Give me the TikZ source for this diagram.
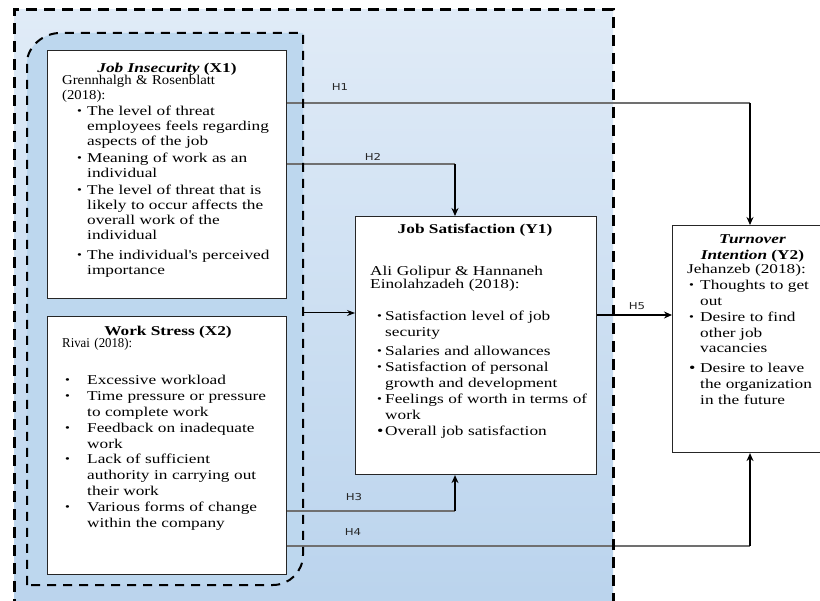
\documentclass[tikz,border=0pt]{standalone}
\usepackage{fontspec}
\setmainfont{Liberation Serif}[FakeStretch=1.28]
\newfontfamily\hdrA{Liberation Serif}[FakeStretch=1.09]
\newfontfamily\hdrB{Liberation Serif}[FakeStretch=0.95]
\newfontfamily\lblfont{DejaVu Sans}[FakeStretch=1.24]
\usetikzlibrary{arrows.meta}
\definecolor{bgA}{HTML}{F3F7FC}
\definecolor{bgB}{HTML}{B3CFEB}
\definecolor{bgC}{HTML}{C8DCF0}
\definecolor{inner}{HTML}{BDD7EE}
\definecolor{hgray}{HTML}{707070}
\pgfdeclareverticalshading{outerbg}{100bp}{color(0bp)=(bgC); color(15bp)=(bgB); color(100bp)=(bgA)}
\newlength\bhang
\newcommand\bdot{\raisebox{1pt}{\scalebox{0.8}{•}}}
\newcommand\bdotL{\raisebox{0.5pt}{\scalebox{1.05}{•}}}
\newcommand\itmf[1]{\hangindent=\bhang\hangafter=1\noindent\makebox[\bhang][l]{\bdot}#1}
\newcommand\itm[2][]{\par\if\relax\detokenize{#1}\relax\else\vspace{#1}\fi\hangindent=\bhang\hangafter=1\noindent\makebox[\bhang][l]{\bdot}#2}
\newcommand\itmL[2][]{\par\if\relax\detokenize{#1}\relax\else\vspace{#1}\fi\hangindent=\bhang\hangafter=1\noindent\makebox[\bhang][l]{\bdotL}#2}
\begin{document}
\begin{tikzpicture}[x=1pt,y=-1pt,
  box/.style={draw=black!85, line width=1.1pt, fill=white, anchor=north west, inner sep=0pt},
  ttl/.style={inner sep=0pt, anchor=base, font=\fontsize{13.5}{15.5}\selectfont\bfseries},
  txt/.style={inner sep=0pt, anchor=base west, align=left, text width=300pt},
  lbl/.style={inner sep=0pt, font=\lblfont\fontsize{9.5}{11}\selectfont, text=black!85},
  hl/.style={draw=hgray, line width=1.1pt},
  vl/.style={draw=black, line width=1.8pt, -{Stealth[length=8pt,width=7pt]}},
  al/.style={draw=black, line width=1.5pt, -{Stealth[length=8pt,width=7pt]}},
  tl/.style={draw=black, line width=1pt, -{Stealth[length=8pt,width=6pt]}}
]
\useasboundingbox (0,0) rectangle (820,601);
\clip (0,0) rectangle (820,601);
\fill[white] (0,0) rectangle (820,601);
% outer gradient region
\shade[shading=outerbg] (14,10) rectangle (613,601);
% inner rounded region
\fill[inner] (27,585) -- (27,63) .. controls (27,46.5) and (43.5,33) .. (60,33)
  -- (303,33) -- (303,555) .. controls (303,571.5) and (289.5,585) .. (273,585) -- cycle;

% boxes
\node[box, minimum width=239pt, minimum height=248pt] (x1) at (47,50) {};
\node[box, minimum width=239pt, minimum height=258pt] (x2) at (47,316) {};
\node[box, minimum width=241pt, minimum height=258pt] (y1) at (355,216) {};
\node[box, minimum width=156pt, minimum height=227pt] (y2) at (672,225) {};

% X1 text
\node[ttl] (x1t) at (167,73) {\textit{Job Insecurity} (X1)};
\node[txt, font=\hdrA\fontsize{13.5}{15}\selectfont] (x1h) at (62,85) {Grennhalgh \& Rosenblatt\newline (2018):};
\node[txt, font=\fontsize{13.5}{15}\selectfont] (x1b) at (77,116) {\setlength\bhang{10pt}%
\itmf{The level of threat\newline employees feels regarding\newline aspects of the job}%
\itm[2pt]{Meaning of work as an\newline individual}%
\itm[2pt]{The level of threat that is\newline likely to occur affects the\newline overall work of the\newline individual}%
\itm[5pt]{The individual\textquotesingle s perceived\newline importance}\par};

% X2 text
\node[ttl] (x2t) at (168,336) {Work Stress (X2)};
\node[txt, font=\hdrB\fontsize{13.5}{15}\selectfont] (x2h) at (62,348) {Rivai (2018):};
\node[txt, font=\fontsize{13.5}{15.8}\selectfont] (x2b) at (65,385) {\setlength\bhang{22pt}%
\itmf{Excessive workload}%
\itm{Time pressure or pressure\newline to complete work}%
\itm{Feedback on inadequate\newline work}%
\itm{Lack of sufficient\newline authority in carrying out\newline their work}%
\itm{Various forms of change\newline within the company}\par};

% Y1 text
\node[ttl] (y1t) at (475,234) {Job Satisfaction (Y1)};
\node[txt, font=\fontsize{13.5}{13}\selectfont] (y1h) at (370,276) {Ali Golipur \& Hannaneh\newline Einolahzadeh (2018):};
\node[txt, font=\fontsize{13.5}{15.5}\selectfont] (y1b) at (377,321) {\setlength\bhang{8pt}%
\itmf{Satisfaction level of job\newline security}%
\itm[4pt]{Salaries and allowances}%
\itm[0.5pt]{Satisfaction of personal\newline growth and development}%
\itm[1pt]{Feelings of worth in terms of\newline work}%
\itmL[1pt]{Overall job satisfaction}\par};

% Y2 text
\node[ttl, align=center, font=\fontsize{13.5}{16}\selectfont\bfseries] (y2t) at (752.5,260) {\textit{Turnover}\\\textit{Intention} (Y2)};
\node[txt, font=\fontsize{13.5}{15.5}\selectfont] (y2h) at (687,274) {Jehanzeb (2018):};
\node[txt, font=\fontsize{13.5}{15.7}\selectfont] (y2b) at (689,290) {\setlength\bhang{11pt}%
\itmf{Thoughts to get\newline out}%
\itm{Desire to find\newline other job\newline vacancies}%
\itmL[4.3pt]{Desire to leave\newline the organization\newline in the future}\par};

% connector levels
\coordinate (yH1) at (0,103);
\coordinate (yH2) at (0,164);
\coordinate (yH5) at (0,315);
\coordinate (yH3) at (0,511);
\coordinate (yH4) at (0,546);
\coordinate (xH1) at (750,0);
\coordinate (xH2) at (455,0);
\coordinate (gE) at (303,313);

% H1
\draw[hl] (x1.east |- yH1) -- (xH1 |- yH1);
\draw[vl] (xH1 |- yH1) -- (xH1 |- y2.north);
% H2
\draw[hl] (x1.east |- yH2) -- (xH2 |- yH2);
\draw[vl] (xH2 |- yH2) -- (xH2 |- y1.north);
% group to Y1
\draw[tl] (gE) -- (y1.west |- gE);
% H3
\draw[hl] (x2.east |- yH3) -- (xH2 |- yH3);
\draw[vl] (xH2 |- yH3) -- (xH2 |- y1.south);
% H4
\draw[hl] (x2.east |- yH4) -- (xH1 |- yH4);
\draw[vl] (xH1 |- yH4) -- (xH1 |- y2.south);
% H5
\draw[al] (y1.east |- yH5) -- (y2.west |- yH5);

% labels
\node[lbl] (lh1) at (340,87) {H1};
\node[lbl] (lh2) at (373,157) {H2};
\node[lbl] (lh3) at (354,497) {H3};
\node[lbl] (lh4) at (353,532) {H4};
\node[lbl] (lh5) at (637,306) {H5};

% dashed outlines
\draw[line width=3pt, dash pattern=on 11pt off 7pt] (14,610) -- (14,10) -- (613,10) -- (613,610);
\draw[line width=2pt, dash pattern=on 9pt off 7pt] (27,585) -- (27,63) .. controls (27,46.5) and (43.5,33) .. (60,33)
  -- (303,33) -- (303,555) .. controls (303,571.5) and (289.5,585) .. (273,585) -- cycle;
\end{tikzpicture}
\end{document}
